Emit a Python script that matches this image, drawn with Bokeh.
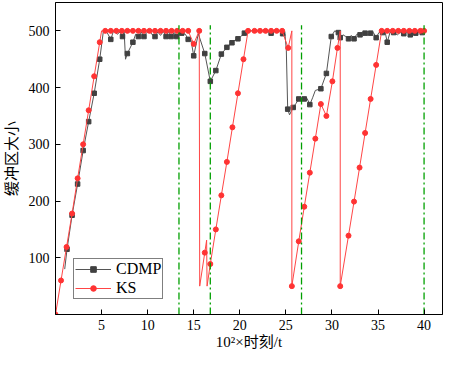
from bokeh.plotting import figure
from bokeh.models import Range1d, FixedTicker, Legend, LegendItem
from bokeh.embed import file_html
from bokeh.resources import INLINE

# ---- data ----
cdmp_x = [1.0, 1.25, 1.8, 2.4, 3.0, 3.6, 4.2, 4.8, 5.2, 5.6, 6.0, 6.3, 6.7, 7.0, 7.27, 7.45, 7.6, 7.8,
          8.4, 8.7, 9.0, 9.3, 9.6, 9.9, 10.2, 10.5, 10.8, 11.1, 11.4, 11.7, 12.0, 12.3, 12.55, 12.9,
          13.16, 13.5, 13.7, 14.1, 14.4, 14.7, 15.0, 15.5, 16.2, 16.8, 17.4, 18.0, 18.6, 19.15, 19.3,
          19.8, 20.1, 20.5, 20.9, 22.0, 23.1, 23.4, 23.7, 24.3, 24.65, 24.9, 25.05, 25.2, 25.4, 25.8,
          26.1, 26.4, 26.7, 27.0, 27.3, 27.6, 27.9, 28.2, 28.8, 29.4, 29.93, 30.3, 30.7, 30.9, 31.2,
          31.5, 31.8, 32.1, 32.4, 32.7, 33.05, 33.3, 33.6, 33.9, 34.2, 34.5, 34.8, 35.1, 35.5, 35.8,
          36.0, 36.3, 36.7, 37.1, 37.4, 37.8, 38.1, 38.5, 38.8, 39.1, 39.5, 39.8]
cdmp_y = [80, 115, 175, 230, 289, 340, 390, 450, 500, 497, 485, 500, 494, 498, 490, 499, 450, 460,
          480, 494, 490, 498, 490, 497, 500, 493, 490, 498, 492, 499, 490, 499, 490, 497,
          490, 499, 496, 494, 485, 484, 456, 495, 460, 411, 430, 459, 471, 479, 482,
          486, 490, 496, 500, 500, 500, 496, 500, 500, 495, 495, 466, 362, 352, 365,
          372, 380, 378, 380, 381, 370, 382, 395, 398, 425, 490, 500, 497, 488, 493,
          490, 486, 492, 486, 494, 493, 497, 496, 492, 496, 497, 488, 497, 497, 496,
          480, 497, 497, 493, 497, 495, 498, 493, 497, 496, 498, 497]
cdmp_mark = [0, 1, 1, 1, 1, 1, 1, 1, 0, 0, 1, 0, 0, 0, 1, 0, 0, 1,
             1, 0, 1, 0, 1, 0, 0, 0, 1, 0, 0, 0, 1, 0, 1, 0,
             1, 0, 1, 0, 1, 0, 1, 0, 1, 1, 1, 1, 1, 1, 0,
             1, 0, 1, 0, 0, 0, 1, 0, 0, 1, 0, 0, 1, 0, 1,
             0, 1, 0, 1, 0, 1, 0, 0, 1, 1, 1, 0, 1, 1, 0,
             0, 1, 0, 1, 0, 1, 0, 1, 0, 1, 0, 1, 0, 1, 0,
             1, 0, 1, 0, 0, 1, 0, 1, 0, 1, 0, 1]

ks_x = [0, 0.6, 1.2, 1.8, 2.4, 3.0, 3.6, 4.2, 4.8, 5.0, 5.4, 6.0, 6.6, 7.2, 7.8, 8.4, 9.0, 9.6,
        10.2, 10.8, 11.4, 12.0, 12.6, 13.2, 13.8, 14.4, 15.0, 15.6, 15.65, 16.2, 16.4, 16.45,
        16.8, 17.4, 18.0, 18.6, 19.2, 19.8, 20.4, 20.9, 21.6, 22.2, 22.8, 23.4, 24.0, 24.6,
        25.25, 25.65, 25.65, 26.4, 27.0, 27.6, 28.2, 28.8, 29.4, 30.05, 30.6, 30.9, 30.9,
        31.8, 32.4, 33.0, 33.6, 34.2, 34.8, 35.4, 36.0, 36.6, 37.2, 37.8, 38.4, 39.0, 39.6, 40.0]
ks_y = [0, 60, 119, 178, 240, 300, 360, 420, 480, 500, 500, 500, 500, 500, 500, 500, 500, 500,
        500, 500, 500, 500, 500, 500, 500, 500, 477, 500, 50, 109, 131, 50,
        89, 150, 210, 269, 330, 390, 450, 500, 500, 500, 500, 500, 500, 500,
        470, 500, 50, 129, 190, 250, 310, 371, 350, 411, 470, 500, 50,
        139, 199, 259, 320, 380, 440, 500, 500, 500, 500, 500, 500, 500, 500, 500]
ks_mark = [1, 1, 1, 1, 1, 1, 1, 1, 1, 0, 1, 1, 1, 1, 1, 1, 1, 1,
           1, 1, 1, 1, 1, 1, 1, 1, 1, 1, 0, 1, 0, 0,
           1, 1, 1, 1, 1, 1, 1, 1, 1, 1, 1, 1, 1, 1,
           1, 0, 1, 1, 1, 1, 1, 1, 1, 1, 1, 0, 1,
           1, 1, 1, 1, 1, 1, 1, 1, 1, 1, 1, 1, 1, 1, 1]

vline_x = [13.4, 16.8, 26.7, 40.0]
vline_top = [510, 510, 510, 510]

x_ticks = [5, 10, 15, 20, 25, 30, 35, 40]
y_ticks = [100, 200, 300, 400, 500]

SERIF = "Liberation Serif"
CJK = "Liberation Serif, Noto Sans CJK SC"

p = figure(width=444, height=360, output_backend="svg", toolbar_location=None,
           x_range=Range1d(0, 42), y_range=Range1d(0, 550),
           min_border_left=54, min_border_right=2, min_border_top=2, min_border_bottom=46)
p.xgrid.visible = False
p.ygrid.visible = False
p.outline_line_color = "black"
p.outline_line_width = 1
p.background_fill_color = "white"
p.border_fill_color = "white"

for ax in (p.xaxis[0], p.yaxis[0]):
    ax.axis_line_color = "black"
    ax.major_tick_in = 5
    ax.major_tick_out = 0
    ax.minor_tick_in = 0
    ax.minor_tick_out = 0
    ax.major_tick_line_color = "black"
    ax.major_label_text_font = SERIF
    ax.major_label_text_font_size = "14px"
    ax.major_label_text_color = "black"
    ax.axis_label_text_font = CJK
    ax.axis_label_text_font_size = "15px"
    ax.axis_label_text_font_style = "normal"
    ax.axis_label_text_color = "black"

p.xaxis.ticker = FixedTicker(ticks=x_ticks)
p.yaxis.ticker = FixedTicker(ticks=y_ticks)
p.xaxis.axis_label = "10²×时刻/t"
p.yaxis.axis_label = "缓冲区大小"
p.xaxis.major_label_standoff = 5
p.yaxis.major_label_standoff = 6
p.xaxis.axis_label_standoff = 1
p.yaxis.axis_label_standoff = 6

cmx = [x for x, m in zip(cdmp_x, cdmp_mark) if m]
cmy = [y for y, m in zip(cdmp_y, cdmp_mark) if m]
kmx = [x for x, m in zip(ks_x, ks_mark) if m]
kmy = [y for y, m in zip(ks_y, ks_mark) if m]

c_line = p.line(cdmp_x, cdmp_y, line_color="#555555", line_width=1)
c_pts = p.scatter(cmx, cmy, marker="square", size=4.5, fill_color="#404040", line_color="#404040")
k_line = p.line(ks_x, ks_y, line_color="#ff4545", line_width=1)
k_pts = p.scatter(kmx, kmy, marker="circle", size=5, fill_color="#ff3333", line_color="#ff3333")

p.segment(x0=vline_x, y0=[0] * len(vline_x), x1=vline_x, y1=vline_top,
          line_color="#00a000", line_width=1.3, line_dash="7 3 2 3")

legend = Legend(items=[LegendItem(label="CDMP", renderers=[c_line, c_pts]),
                       LegendItem(label="KS", renderers=[k_line, k_pts])],
                location=(18, 15), orientation="vertical")
legend.label_text_font = SERIF
legend.label_text_font_size = "16px"
legend.label_text_color = "black"
legend.border_line_color = "black"
legend.border_line_width = 1
legend.background_fill_alpha = 1
legend.glyph_width = 36
legend.glyph_height = 14
legend.label_height = 14
legend.label_standoff = 5
legend.spacing = 1
legend.padding = 1
legend.margin = 0
p.add_layout(legend, "center")

open("out.html", "w").write(file_html(p, INLINE))
